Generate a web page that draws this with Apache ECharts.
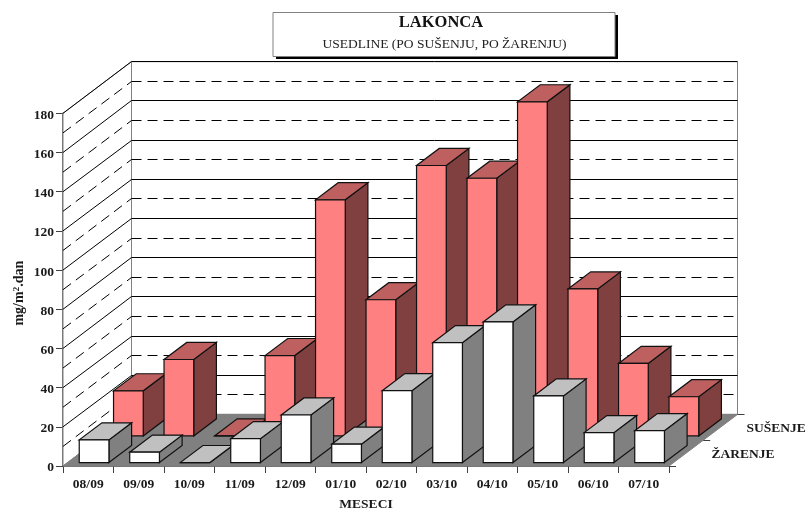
<!DOCTYPE html>
<html><head><meta charset="utf-8">
<style>html,body{margin:0;padding:0;background:#fff}#c{width:807px;height:510px}</style>
<script src="https://cdn.jsdelivr.net/npm/echarts@6/dist/echarts.min.js"></script>
</head><body><div id="c"></div>
<script>
const months = ['08/09','09/09','10/09','11/09','12/09','01/10','02/10','03/10','04/10','05/10','06/10','07/10'];
const susenje = [23,39,0,41,120.5,69.5,138,131.5,170.5,75,37,20];
const zarenje = [11.6,5.3,0,12.2,24.3,9.4,36.7,61.2,71.8,34,15.3,16.3];
const rowNames = ['SUŠENJE','ŽARENJE'];
const majorTicks = [0,20,40,60,80,100,120,140,160,180];
const minorTicks = [10,30,50,70,90,110,130,150,170];
const titleText = 'LAKONCA';
const subtitleText = 'USEDLINE (PO SUŠENJU, PO ŽARENJU)';
const xName = 'MESECI';
const yName = 'mg/m{sup|2}.dan';

const FONT = '"Liberation Serif","Times New Roman",serif';
const DX = 68.5, DY = 51.6;
const BAR_W = 0.588, BAR_DEPTH = 0.331;
const ROW_DEPTH = [0.066, 0.583];
const ROW_START = [0.232, 0.21];
const crisp = v => Math.round(v - 0.5) + 0.5;

function P(api, idx, value, depth, frac) {
  const c = api.coord([idx, value]);
  const band = api.size([1, 0])[0];
  return [c[0] - band / 2 + frac * band + depth * DX, c[1] - depth * DY];
}
function poly(points, fill, stroke, lw) {
  return {type:'polygon', shape:{points}, style:{fill, stroke: stroke || 'none', lineWidth: lw === undefined ? 1 : lw, lineJoin:'miter'}};
}
function seg(a, b, dash, color) {
  return {type:'line', shape:{x1:a[0],y1:a[1],x2:b[0],y2:b[1]}, style:{stroke:color||'#000',lineWidth:1,lineDash:dash||null,fill:null}};
}
const last = months.length - 1;

function renderWalls(params, api) {
  const a = P(api,0,0,0,0), b = P(api,last,0,0,1), c = P(api,last,0,1,1), d = P(api,0,0,1,0);
  const at = P(api,0,180,0,0), dt = P(api,0,180,1,0), ct = P(api,last,180,1,1);
  return {type:'group', children:[
    poly([a,at,dt,d], '#fff', '#808080'),
    poly([d,dt,ct,c], '#fff', '#808080'),
    poly([a,b,c,d], '#808080', '#808080')
  ]};
}
function renderFloorTicks(params, api) {
  const depth = api.value(0);
  const p = P(api,last,0,depth,1);
  const y = crisp(p[1]);
  return seg([p[0],y],[p[0]+7,y],null,'#404040');
}
function gridRenderer(dash) {
  return function(params, api) {
    const v = api.value(0);
    const l = P(api,0,v,0,0), m = P(api,0,v,1,0), r = P(api,last,v,1,1);
    const y = crisp(m[1]);
    return {type:'group', children:[seg(l,[m[0],y],dash), seg([m[0],y],[r[0],y],dash)]};
  };
}
function barRenderer(row, front, top, side) {
  return function(params, api) {
    const i = api.value(0), v = api.value(1);
    const d0 = ROW_DEPTH[row], d1 = d0 + BAR_DEPTH;
    const f0 = ROW_START[row], f1 = f0 + BAR_W;
    const A = P(api,i,0,d0,f0), B = P(api,i,0,d0,f1), C = P(api,i,v,d0,f1), D = P(api,i,v,d0,f0);
    const E = P(api,i,0,d1,f1), F = P(api,i,v,d1,f1), G = P(api,i,v,d1,f0);
    return {type:'group', children:[
      poly([B,E,F,C], side, '#111', 1.2),
      poly([D,C,F,G], top, '#111', 1.2),
      poly([A,B,C,D], front, '#111', 1.2)
    ]};
  };
}
const option = {
  animation:false,
  backgroundColor:'#fff',
  textStyle:{fontFamily:FONT},
  grid:{left:63, right:138, top:113.3, bottom:44, containLabel:false, outerBoundsMode:'none'},
  xAxis:{type:'category', data:months, boundaryGap:true,
    axisLine:{show:true,lineStyle:{color:'#404040',width:1.5}},
    axisTick:{show:true,alignWithLabel:false,length:7,lineStyle:{color:'#404040',width:1}},
    axisLabel:{interval:0,color:'#1a1a1a',fontFamily:FONT,fontWeight:'bold',fontSize:13.5,margin:12},
    name:xName, nameLocation:'middle', nameGap:32,
    nameTextStyle:{color:'#1a1a1a',fontFamily:FONT,fontWeight:'bold',fontSize:13.5},
    splitLine:{show:false}},
  yAxis:{type:'value', min:0, max:180, interval:20,
    axisLine:{show:true,lineStyle:{color:'#404040',width:1.5}},
    axisTick:{show:true,length:7,lineStyle:{color:'#404040',width:1}},
    axisLabel:{color:'#1a1a1a',fontFamily:FONT,fontWeight:'bold',fontSize:13.5,margin:9,verticalAlign:'top',lineHeight:4},
    name:yName, nameLocation:'middle', nameGap:37, nameRotate:90, nameMoveOverlap:false,
    nameTextStyle:{color:'#1a1a1a',fontFamily:FONT,fontWeight:'bold',fontSize:14,padding:[0,7,0,0],
      rich:{sup:{fontFamily:FONT,fontWeight:'bold',fontSize:9,color:'#1a1a1a',verticalAlign:'top',lineHeight:14}}},
    splitLine:{show:false}},
  series:[
    {type:'custom', name:'walls', coordinateSystem:'cartesian2d', silent:true, z:1, renderItem:renderWalls, data:[[0]]},
    {type:'custom', name:'major', coordinateSystem:'cartesian2d', silent:true, z:2, renderItem:gridRenderer(null), data:majorTicks.slice(1).map(v=>[v]), encode:{x:-1,y:0}},
    {type:'custom', name:'minor', coordinateSystem:'cartesian2d', silent:true, z:2, renderItem:gridRenderer([10,6]), data:minorTicks.map(v=>[v]), encode:{x:-1,y:0}},
    {type:'custom', name:'depthTicks', coordinateSystem:'cartesian2d', silent:true, z:2, renderItem:renderFloorTicks, data:[[0],[0.5],[1]], encode:{x:-1,y:-1}},
    {type:'custom', name:rowNames[0], coordinateSystem:'cartesian2d', z:3, renderItem:barRenderer(1,'#FF8080','#BF6060','#804040'), data:susenje.map((v,i)=>[i,v]), encode:{x:0,y:1}},
    {type:'custom', name:rowNames[1], coordinateSystem:'cartesian2d', z:4, renderItem:barRenderer(0,'#FFFFFF','#C0C0C0','#808080'), data:zarenje.map((v,i)=>[i,v]), encode:{x:0,y:1}}
  ],
  graphic:[
    {type:'rect', z:50, shape:{x:276,y:15,width:342,height:44}, style:{fill:'#000'}},
    {type:'rect', z:51, shape:{x:273,y:12.5,width:342,height:44}, style:{fill:'#fff',stroke:'#808080',lineWidth:1}},
    {type:'text', z:52, style:{text:titleText,x:441,y:23,align:'center',verticalAlign:'middle',fontFamily:FONT,fontWeight:'bold',fontSize:16.5,fill:'#111'}},
    {type:'text', z:52, style:{text:subtitleText,x:444.5,y:44,align:'center',verticalAlign:'middle',fontFamily:FONT,fontSize:13.5,fill:'#222'}},
    {type:'text', z:52, style:{text:rowNames[0],x:746.5,y:429,align:'left',verticalAlign:'middle',fontFamily:FONT,fontWeight:'bold',fontSize:13.5,fill:'#1a1a1a'}},
    {type:'text', z:52, style:{text:rowNames[1],x:711.5,y:454.5,align:'left',verticalAlign:'middle',fontFamily:FONT,fontWeight:'bold',fontSize:13.5,fill:'#1a1a1a'}}
  ]
};
const chart = echarts.init(document.getElementById('c'), null, {renderer:'canvas'});
chart.setOption(option);
</script></body></html>
